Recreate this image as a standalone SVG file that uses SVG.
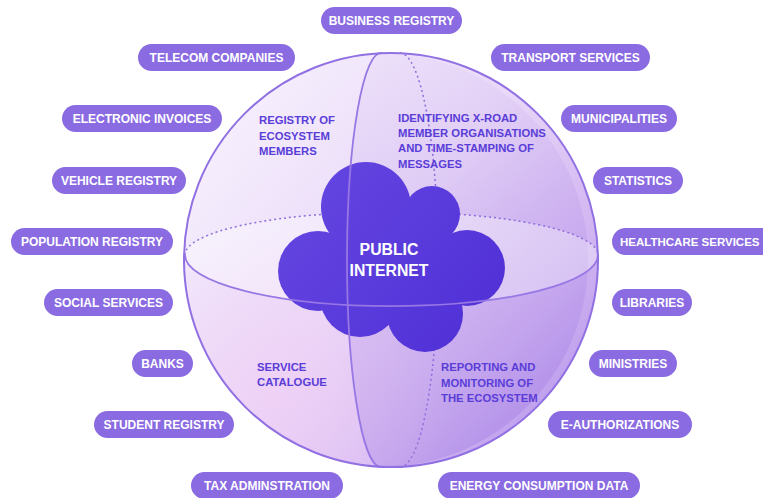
<svg xmlns="http://www.w3.org/2000/svg" width="763" height="498" viewBox="0 0 763 498">
  <defs>
    <linearGradient id="sph" x1="0.1" y1="0.15" x2="0.95" y2="0.85">
      <stop offset="0" stop-color="#f6effd"/>
      <stop offset="0.45" stop-color="#e9d8f8"/>
      <stop offset="0.8" stop-color="#d0b3f1"/>
      <stop offset="1" stop-color="#b999ec"/>
    </linearGradient>
    <radialGradient id="pink" gradientUnits="userSpaceOnUse" cx="280" cy="400" r="170">
      <stop offset="0" stop-color="#f2cff5" stop-opacity="0.7"/>
      <stop offset="1" stop-color="#f2cff5" stop-opacity="0"/>
    </radialGradient>
    <linearGradient id="face" x1="0" y1="0" x2="0" y2="1">
      <stop offset="0" stop-color="#7a4fd8" stop-opacity="0.04"/>
      <stop offset="1" stop-color="#7a4fd8" stop-opacity="0.2"/>
    </linearGradient>
    <linearGradient id="cloud" gradientUnits="userSpaceOnUse" x1="280" y1="165" x2="505" y2="350">
      <stop offset="0" stop-color="#6648e2"/>
      <stop offset="1" stop-color="#4e2ed5"/>
    </linearGradient>
    <style>
      .pill rect { fill: #8a6be2; }
      .pill text { fill: #ffffff; font-family: "Liberation Sans", Arial, sans-serif; font-weight: 700; font-size: 12px; text-anchor: middle; }
      .lbl { fill: #5a3dd8; font-family: "Liberation Sans", Arial, sans-serif; font-weight: 700; font-size: 11.3px; }
      .solid { fill: none; stroke: #9777e4; stroke-width: 1.8; }
      .dot { fill: none; stroke: #8c6edc; stroke-width: 1.5; stroke-dasharray: 2 3; }
    </style>
  </defs>

  <g id="sphere">
    <circle cx="391" cy="260" r="207" fill="url(#sph)"/>
    <circle cx="391" cy="260" r="207" fill="url(#pink)"/>
    <path d="M382,53 A34,207 0 0,0 380,467 A207,207 0 1,0 382,53 Z" fill="url(#face)"/>
    <path d="M185,255 A206,51 0 0,0 598,255 A206,43 0 0,0 185,255 Z" fill="#ffffff" fill-opacity="0.35"/>
  </g>

  <g id="connectors">
    <path class="dot" d="M185,255 A206,43 0 0,1 598,255"/>
    <path class="dot" d="M400,53 A38,207 0 0,1 400,467"/>
  </g>

  <g id="cloud-node">
    <g fill="url(#cloud)">
      <circle cx="366" cy="207" r="45"/>
      <circle cx="432" cy="214" r="28"/>
      <circle cx="467" cy="268" r="38"/>
      <circle cx="425" cy="314" r="38"/>
      <circle cx="360" cy="297" r="40"/>
      <circle cx="318" cy="271" r="40"/>
      <circle cx="395" cy="262" r="58"/>
    </g>
  </g>

  <g id="front-lines">
    <path class="solid" d="M382,53 A34,207 0 0,0 380,467"/>
    <path class="solid" d="M185,255 A206,51 0 0,0 598,255"/>
    <circle cx="391" cy="260" r="207" fill="none" stroke="#9070e2" stroke-width="2"/>
  </g>

  <g id="cloud-label">
    <text x="389" y="255" fill="#ffffff" font-family="Liberation Sans, Arial, sans-serif" font-weight="700" font-size="15.8" text-anchor="middle">PUBLIC</text>
    <text x="389" y="276" fill="#ffffff" font-family="Liberation Sans, Arial, sans-serif" font-weight="700" font-size="15.8" text-anchor="middle">INTERNET</text>
  </g>

  <g id="registry-members">
    <text class="lbl" x="259" y="124">REGISTRY OF</text>
    <text class="lbl" x="259" y="140">ECOSYSTEM</text>
    <text class="lbl" x="259" y="155">MEMBERS</text>
  </g>
  <g id="identifying">
    <text class="lbl" x="398" y="122">IDENTIFYING X-ROAD</text>
    <text class="lbl" x="398" y="137">MEMBER ORGANISATIONS</text>
    <text class="lbl" x="398" y="152">AND TIME-STAMPING OF</text>
    <text class="lbl" x="398" y="168">MESSAGES</text>
  </g>
  <g id="service-catalogue">
    <text class="lbl" x="257" y="371">SERVICE</text>
    <text class="lbl" x="257" y="386">CATALOGUE</text>
  </g>
  <g id="reporting">
    <text class="lbl" x="441" y="371">REPORTING AND</text>
    <text class="lbl" x="441" y="387">MONITORING OF</text>
    <text class="lbl" x="441" y="402">THE ECOSYSTEM</text>
  </g>

  <g id="business-registry" class="pill"><rect x="321" y="7" width="141" height="27" rx="13.5"/><text x="391.5" y="25">BUSINESS REGISTRY</text></g>
  <g id="telecom-companies" class="pill"><rect x="138" y="44" width="157" height="27" rx="13.5"/><text x="216.5" y="62">TELECOM COMPANIES</text></g>
  <g id="transport-services" class="pill"><rect x="491" y="44" width="159" height="27" rx="13.5"/><text x="570.5" y="62">TRANSPORT SERVICES</text></g>
  <g id="electronic-invoices" class="pill"><rect x="62" y="105" width="160" height="27" rx="13.5"/><text x="142" y="123">ELECTRONIC INVOICES</text></g>
  <g id="municipalities" class="pill"><rect x="561" y="105" width="116" height="27" rx="13.5"/><text x="619" y="123">MUNICIPALITIES</text></g>
  <g id="vehicle-registry" class="pill"><rect x="52" y="167" width="134" height="27" rx="13.5"/><text x="119" y="185">VEHICLE REGISTRY</text></g>
  <g id="statistics" class="pill"><rect x="593" y="167" width="90" height="27" rx="13.5"/><text x="638" y="185">STATISTICS</text></g>
  <g id="population-registry" class="pill"><rect x="11" y="228" width="162" height="27" rx="13.5"/><text x="92" y="246">POPULATION REGISTRY</text></g>
  <g id="healthcare-services" class="pill"><rect x="612" y="228" width="170" height="27" rx="13.5"/><text x="620" y="246" style="text-anchor:start;font-size:11.5px">HEALTHCARE SERVICES</text></g>
  <g id="social-services" class="pill"><rect x="44" y="289" width="129" height="27" rx="13.5"/><text x="108.5" y="307">SOCIAL SERVICES</text></g>
  <g id="libraries" class="pill"><rect x="612" y="289" width="80" height="27" rx="13.5"/><text x="652" y="307">LIBRARIES</text></g>
  <g id="banks" class="pill"><rect x="132" y="350" width="61" height="27" rx="13.5"/><text x="162.5" y="368">BANKS</text></g>
  <g id="ministries" class="pill"><rect x="589" y="350" width="88" height="27" rx="13.5"/><text x="633" y="368">MINISTRIES</text></g>
  <g id="student-registry" class="pill"><rect x="94" y="411" width="140" height="27" rx="13.5"/><text x="164" y="429">STUDENT REGISTRY</text></g>
  <g id="e-authorizations" class="pill"><rect x="548" y="411" width="144" height="27" rx="13.5"/><text x="620" y="429">E-AUTHORIZATIONS</text></g>
  <g id="tax-adminstration" class="pill"><rect x="191" y="472" width="152" height="27" rx="13.5"/><text x="267" y="490">TAX ADMINSTRATION</text></g>
  <g id="energy-consumption-data" class="pill"><rect x="438" y="472" width="202" height="27" rx="13.5"/><text x="539" y="490">ENERGY CONSUMPTION DATA</text></g>
</svg>
